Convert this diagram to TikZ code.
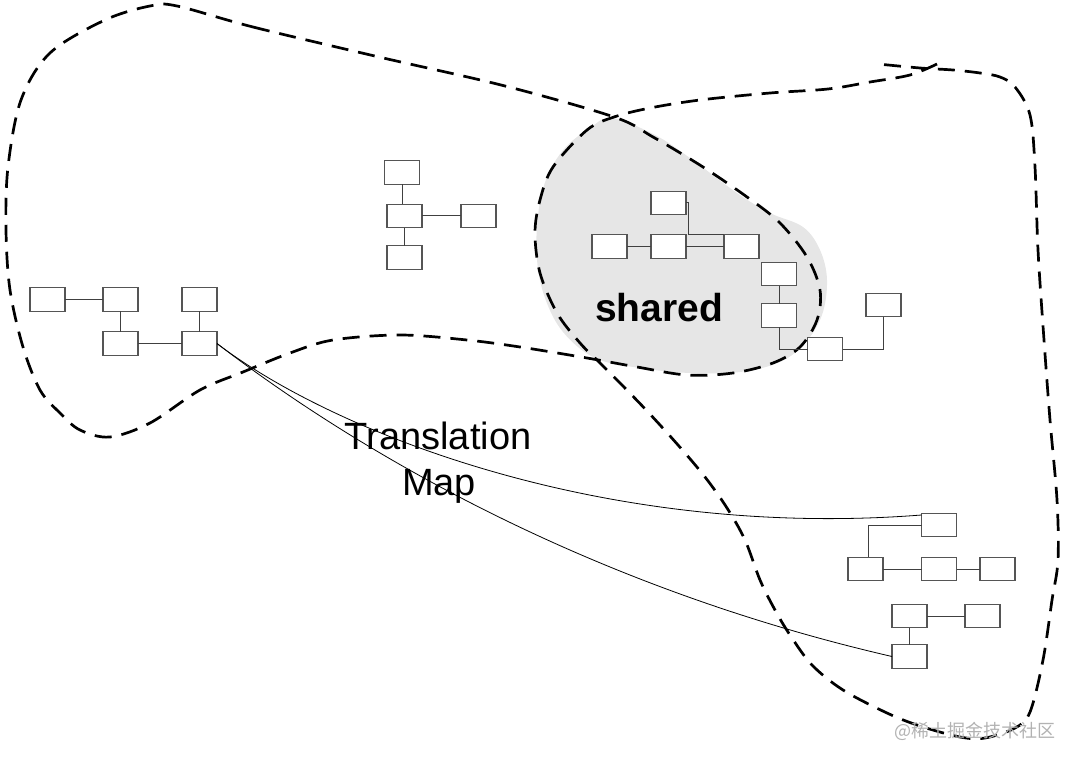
\documentclass[tikz,border=0pt]{standalone}
\usepackage{fontspec}
\setmainfont{Liberation Sans}
\newfontfamily\cjk{Noto Sans CJK SC}
\usetikzlibrary{calc}
\definecolor{sharedgray}{HTML}{E6E6E6}
\definecolor{boxedge}{HTML}{555555}
\tikzset{
  bx/.style={draw=boxedge, line width=1.2pt, fill=white, minimum width=35pt, minimum height=23.5pt, inner sep=0pt, outer sep=0pt},
  ln/.style={draw=black!75, line width=1pt},
  blob/.style={draw=black, line width=2.7pt, dash pattern=on 17pt off 10pt},
  tmap/.style={draw=black, line width=0.8pt},
}
\begin{document}
\begin{tikzpicture}[x=1pt, y=-1pt]
\useasboundingbox (0,0) rectangle (1076,762);
% shared fill
\fill[sharedgray] plot[smooth cycle, tension=0.6] coordinates {
 (612,118) (655,135) (690,158) (737,193) (770,213) (803,227) (820,250) (827,280) (822,315) (805,343) (780,362) (740,372) (690,373) (640,368) (595,358) (563,332) (545,298) (537,260) (538,215) (547,177) (565,148) (590,128)};
% blob 1
\draw[blob] plot[smooth cycle, tension=0.55] coordinates {
 (177,6) (253,27) (379,57) (505,86) (614,117) (653,137) (703,167) (747,197) (780,223) (807,257) (820,290) (817,320) (800,347) (773,363) (733,373) (687,375) (637,367) (587,358) (520,347) (467,340) (400,335) (333,340) (290,353) (243,372) (200,390) (150,423) (110,437) (80,430) (60,413) (40,390) (23,347) (10,290) (6,230) (8,167) (21,100) (50,53) (105,20) (150,6)};
% blob 2
\draw[blob] plot[smooth, tension=0.55] coordinates {
 (937,64) (910,75) (870,82) (828,89) (770,93) (700,100) (650,108) (614,117) (587,130) (553,167) (540,200) (535,233) (540,273) (557,313) (580,343) (600,363) (620,383) (648,412) (678,445) (705,477) (727,508) (745,540) (760,580) (775,610) (790,635) (812,665) (843,690) (887,713) (920,726) (960,737) (985,738) (1015,728) (1030,712) (1043,660) (1052,600) (1058,560) (1057,500) (1050,420) (1044,340) (1038,250) (1035,167) (1030,115) (1015,87) (1000,77) (980,73) (953,70) (920,68) (878,64)};
% left group
\node[bx] (A1) at (47.5,299.5) {};
\node[bx] (A2) at (120.5,299.5) {};
\node[bx] (A3) at (199.5,299.5) {};
\node[bx] (A4) at (120.5,343.5) {};
\node[bx] (A5) at (199.5,343.5) {};
\draw[ln] (A1.east) -- (A2.west);
\draw[ln] (A2.south) -- (A4.north);
\draw[ln] (A3.south) -- (A5.north);
\draw[ln] (A4.east) -- (A5.west);
% middle group
\node[bx] (B1) at (402,172.5) {};
\node[bx] (B2) at (404.5,216) {};
\node[bx] (B3) at (478.5,216) {};
\node[bx] (B4) at (404.5,257.5) {};
\draw[ln] (B1.south) -- (B1.south |- B2.north);
\draw[ln] (B2.east) -- (B3.west);
\draw[ln] (B2.south) -- (B4.north);
% shared group
\node[bx] (C1) at (668.5,203) {};
\node[bx] (C2) at (609.5,246.5) {};
\node[bx] (C3) at (668.5,246.5) {};
\node[bx] (C4) at (741.5,246.5) {};
\node[bx] (C5) at (779,274) {};
\node[bx] (C6) at (779,315.5) {};
\node[bx] (C7) at (825,349) {};
\node[bx] (C8) at (883.5,305) {};
\draw[ln] (C2.east) -- (C3.west);
\draw[ln] (C3.east) -- (C4.west);
\draw[ln] (C1.east) -- ++(2,0) |- (C4.north west);
\draw[ln] (C5.south) -- (C6.north);
\draw[ln] (C6.south) |- (C7.west);
\draw[ln] (C7.east) -| (C8.south);
% bottom right group
\node[bx] (D1) at (939,525) {};
\node[bx] (D2) at (865.5,569) {};
\node[bx] (D3) at (939,569) {};
\node[bx] (D4) at (997.5,569) {};
\node[bx] (D5) at (909.5,616) {};
\node[bx] (D6) at (982.5,616) {};
\node[bx] (D7) at (909.5,656.5) {};
\draw[ln] (D1.west) -| ($(D2.north)+(2.5,0)$);
\draw[ln] (D2.east) -- (D3.west);
\draw[ln] (D3.east) -- (D4.west);
\draw[ln] (D5.east) -- (D6.west);
\draw[ln] (D5.south) -- (D7.north);
% translation map
\coordinate (D1in) at ($(D1.west)+(0,-10)$);
\draw[tmap] (A5.east) .. controls (330,430) and (600,540) .. (D1in);
\draw[tmap] (A5.east) .. controls (330,430) and (560,580) .. (D7.west);
% texts
\node[anchor=base, inner sep=0pt, font=\bfseries\fontsize{39}{46}\selectfont] (sh) at (659,321) {shared};
\node[anchor=base, inner sep=0pt, font=\fontsize{38}{46}\selectfont] (tm1) at (438,449) {Translation};
\node[anchor=base, inner sep=0pt, font=\fontsize{38}{46}\selectfont] (tm2) at (439,495) {Map};
\node[anchor=center, inner sep=0pt, text=black!30, font=\cjk\fontsize{18}{20}\selectfont] (wm) at (975,731) {@稀土掘金技术社区};
\end{tikzpicture}
\end{document}
